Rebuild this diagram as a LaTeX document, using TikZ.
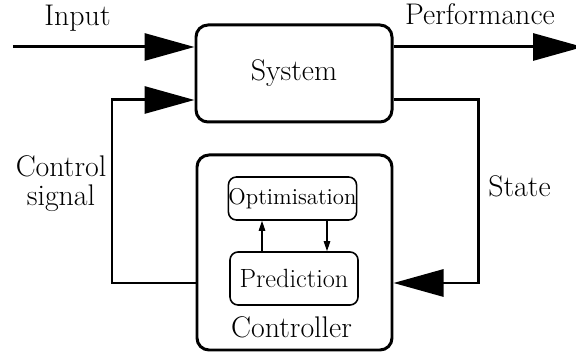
\documentclass[tikz,border=0pt]{standalone}
\usetikzlibrary{arrows.meta, positioning, calc}

\tikzset{
  bigbox/.style = {draw, line width=1.7pt, rounded corners=0.24cm, inner sep=0pt},
  smallbox/.style = {draw, line width=0.9pt, rounded corners=0.16cm, inner sep=0pt},
  bigarrow/.style = {line width=1.7pt, -{Triangle[length=1cm, width=0.54cm]}},
  smallarrow/.style = {line width=0.6pt, -{Triangle[length=0.2cm, width=0.13cm]}},
  lbl/.style = {font=\fontsize{17}{17}\selectfont, inner sep=0pt}
}

\begin{document}
\begin{tikzpicture}
\useasboundingbox (0,0) rectangle (11.52,7.08);

%Boxes
\node[bigbox, minimum width=3.92cm, minimum height=1.94cm, lbl] (sys) at (5.88,5.61) {System};
\node[bigbox, minimum width=3.9cm, minimum height=3.9cm] (ctrl) at (5.89,2.03) {};
\node[lbl, anchor=base] (ctrllbl) at (5.83,0.32) {Controller};
\node[smallbox, minimum width=2.5cm, minimum height=0.86cm, font=\fontsize{13}{13}\selectfont] (opt) at (5.85,3.11) {Optimisation};
\node[smallbox, minimum width=2.56cm, minimum height=1.06cm, font=\fontsize{15}{15}\selectfont] (pred) at (5.88,1.51) {Prediction};

%Inner arrows
\draw[smallarrow] (pred.north -| 5.24,0) -- (opt.south -| 5.24,0);
\draw[smallarrow] (opt.south -| 6.54,0) -- (pred.north -| 6.54,0);

%External Lines
\coordinate (in) at (0.26,6.14);
\coordinate (out) at (11.66,6.14);
\coordinate (fb) at (9.56,1.42);
\coordinate (cs) at (2.24,5.08);
\draw[bigarrow] (in) -- (sys.west |- in);
\draw[bigarrow] (sys.east |- out) -- (out);
\draw[bigarrow] (sys.east |- cs) -| (fb) -- (ctrl.east |- fb);
\draw[bigarrow] (ctrl.west |- fb) -| (cs) -- (sys.west |- cs);

%Labels
\node[lbl, anchor=base] (inlbl) at (1.55,6.56) {Input};
\node[lbl, anchor=base] (perflbl) at (9.6,6.58) {Performance};
\node[lbl, anchor=base, align=center] (cslbl) at (1.22,2.96) {Control\\signal};
\node[lbl, anchor=base] (stlbl) at (10.39,3.14) {State};
\end{tikzpicture}
\end{document}
